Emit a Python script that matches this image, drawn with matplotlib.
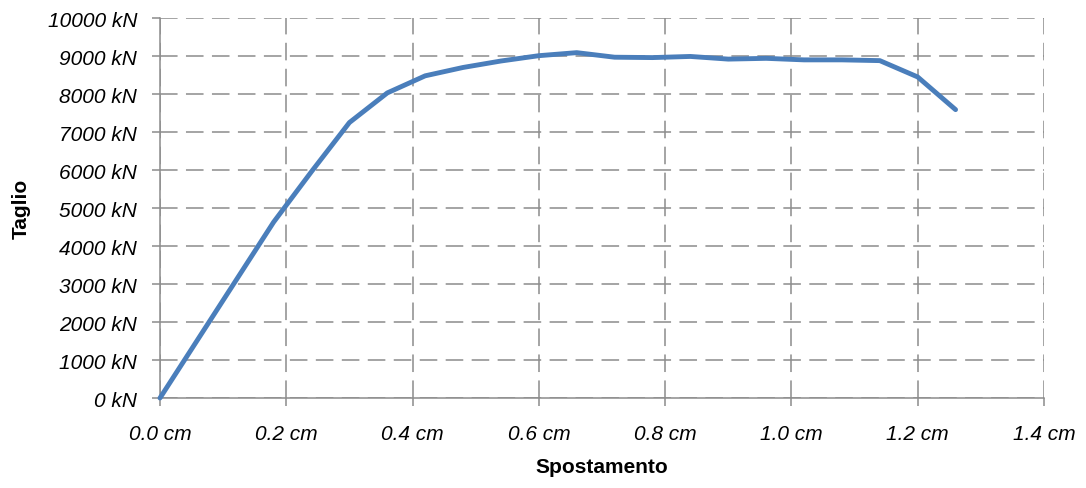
import matplotlib
matplotlib.use("Agg")
import matplotlib.pyplot as plt
from matplotlib.ticker import FixedLocator, FuncFormatter

# Displacement (cm) and shear (kN)
spostamento = [0.00, 0.18, 0.24, 0.30, 0.36, 0.42, 0.48, 0.54, 0.60, 0.66,
               0.72, 0.78, 0.84, 0.90, 0.96, 1.02, 1.08, 1.14, 1.20, 1.26]
taglio = [0, 4630, 5960, 7250, 8030, 8480, 8700, 8870, 9010, 9090,
          8970, 8960, 8990, 8920, 8940, 8900, 8900, 8880, 8450, 7590]

x_ticks = [0.0, 0.2, 0.4, 0.6, 0.8, 1.0, 1.2, 1.4]
y_ticks = list(range(0, 10001, 1000))

plt.rcParams['font.family'] = ['Liberation Sans', 'DejaVu Sans']
plt.rcParams['font.style'] = 'italic'

fig = plt.figure(figsize=(10.86, 4.89), dpi=100)
ax = fig.add_axes([0.1473, 0.184, 0.8140, 0.777])

grid_color = '#8c8c8c'
ax.plot(spostamento, taglio, color='#4a7ebb', linewidth=3.5,
        solid_joinstyle='round', solid_capstyle='round', zorder=3, clip_on=False)

ax.set_xlim(0, 1.4)
ax.set_ylim(0, 10000)
ax.xaxis.set_major_locator(FixedLocator(x_ticks))
ax.yaxis.set_major_locator(FixedLocator(y_ticks))
ax.xaxis.set_major_formatter(FuncFormatter(lambda v, p: f"{v:.1f} cm"))
ax.yaxis.set_major_formatter(FuncFormatter(lambda v, p: f"{int(round(v))} kN"))

ax.grid(True, color=grid_color, linewidth=1.1, linestyle=(0, (11.5, 5.5)))
ax.set_axisbelow(True)

for side in ('top', 'right'):
    ax.spines[side].set_visible(False)
for side in ('left', 'bottom'):
    ax.spines[side].set_color(grid_color)
    ax.spines[side].set_linewidth(1.1)

ax.tick_params(axis='both', direction='out', length=6, width=1.1, color=grid_color,
               labelsize=15)
ax.tick_params(axis='x', pad=13)
ax.tick_params(axis='y', pad=10.5)

ax.set_xlabel('Spostamento', fontsize=15, fontweight='bold', fontstyle='normal', labelpad=10)
ax.set_ylabel('Taglio', fontsize=15, fontweight='bold', fontstyle='normal', labelpad=12)

fig.savefig('out.png', dpi=100)
